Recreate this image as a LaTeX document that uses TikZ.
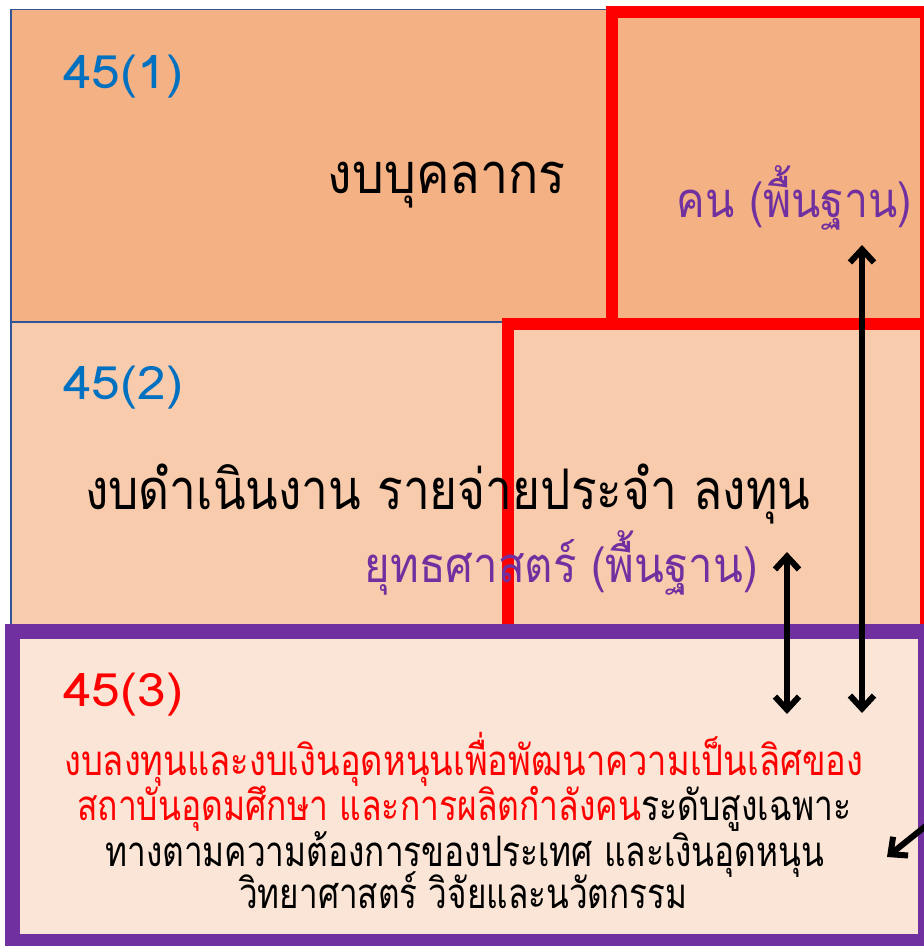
\documentclass[tikz,border=0pt]{standalone}
\usepackage{fontspec}
\usepackage{graphicx}
\usetikzlibrary{arrows.meta}
\newfontfamily\thai[Script=Thai]{Loma}
\definecolor{boxA}{HTML}{F4B183}
\definecolor{boxB}{HTML}{F8CBAD}
\definecolor{boxC}{HTML}{FBE5D6}
\definecolor{edgeblue}{HTML}{2F5597}
\definecolor{txtblue}{HTML}{0070C0}
\definecolor{purp}{HTML}{7030A0}
\definecolor{redc}{HTML}{FF0000}
\newcommand\fw[2]{\resizebox{#1}{\height}{#2}}
\tikzset{
  budget/.style={draw=edgeblue, line width=1.6pt, rectangle, inner sep=0pt},
  redframe/.style={draw=redc, line width=12pt, rectangle, inner sep=0pt},
  purpframe/.style={draw=purp, fill=boxC, line width=15pt, rectangle, inner sep=0pt},
  lbl/.style={inner sep=0pt, font=\thai\fontsize{46}{46}\selectfont},
  mainlbl/.style={inner sep=0pt, font=\thai\fontsize{56}{56}\selectfont},
  sublbl/.style={inner sep=0pt, text=purp, font=\thai\fontsize{49}{49}\selectfont},
  bodylbl/.style={inner sep=0pt, font=\thai\fontsize{42}{42}\selectfont},
  flowline/.style={draw=black, line width=6pt, line cap=round,
    {Straight Barb[length=13pt,width=24pt,line width=6pt]}-{Straight Barb[length=13pt,width=24pt,line width=6pt]}},
  flowone/.style={draw=black, line width=6pt, line cap=round,
    -{Straight Barb[length=13pt,width=24pt,line width=6pt]}}
}
\begin{document}
\begin{tikzpicture}[x=1pt,y=-1pt]
\useasboundingbox (0,0) rectangle (924,946);
\clip (0,0) rectangle (924,946);
% budget boxes
\node[budget, fill=boxA, minimum width=929pt, minimum height=312.5pt] (b1) at (475.5,165.75) {};
\node[budget, fill=boxB, minimum width=929pt, minimum height=318pt] (b2) at (475.5,481) {};
% red frames
\node[redframe, minimum width=418pt, minimum height=376pt] (r2) at (717,512) {};
\node[redframe, minimum width=314pt, minimum height=312pt] (r1) at (769,168) {};
% purple frame
\node[purpframe, minimum width=913pt, minimum height=310pt] (p3) at (468.5,786) {};
% labels
\node[lbl, text=txtblue, anchor=base west] (n1) at (63,88) {\fw{120pt}{45(1)}};
\node[mainlbl, anchor=base east] (t1) at (566,193) {\fw{238pt}{งบบุคลากร}};
\node[sublbl, anchor=base east] (s1) at (912,217) {\fw{235pt}{คน (พื้นฐาน)}};
\node[lbl, text=txtblue, anchor=base west] (n2) at (63,399) {\fw{120pt}{45(2)}};
\node[mainlbl, anchor=base west] (t2) at (85,509) {\fw{725pt}{งบดำเนินงาน รายจ่ายประจำ ลงทุน}};
\node[sublbl, anchor=base east] (s2) at (758,582) {\fw{393pt}{ยุทธศาสตร์ (พื้นฐาน)}};
\node[lbl, text=redc, anchor=base west] (n3) at (63,706) {\fw{120pt}{45(3)}};
\node[bodylbl, text=redc, anchor=base west] (l1) at (64,775) {\fw{799pt}{งบลงทุนและงบเงินอุดหนุนเพื่อพัฒนาความเป็นเลิศของ}};
\node[bodylbl, anchor=base west] (l2) at (77,820) {\fw{774pt}{\textcolor{redc}{สถาบันอุดมศึกษา และการผลิตกำลังคน}ระดับสูงเฉพาะ}};
\node[bodylbl, anchor=base west] (l3) at (105,866) {\fw{719pt}{ทางตามความต้องการของประเทศ และเงินอุดหนุน}};
\node[bodylbl, anchor=base west] (l4) at (239,908) {\fw{448pt}{วิทยาศาสตร์ วิจัยและนวัตกรรม}};
% arrows
\coordinate (a1) at (862,245);
\coordinate (a2) at (862,713);
\coordinate (c1) at (787,552);
\coordinate (c2) at (787,714);
\coordinate (d1) at (932,821);
\coordinate (d2) at (887,857);
\draw[flowline] (a1) -- (a2);
\draw[flowline] (c1) -- (c2);
\draw[flowone] (d1) -- (d2);
\end{tikzpicture}
\end{document}
